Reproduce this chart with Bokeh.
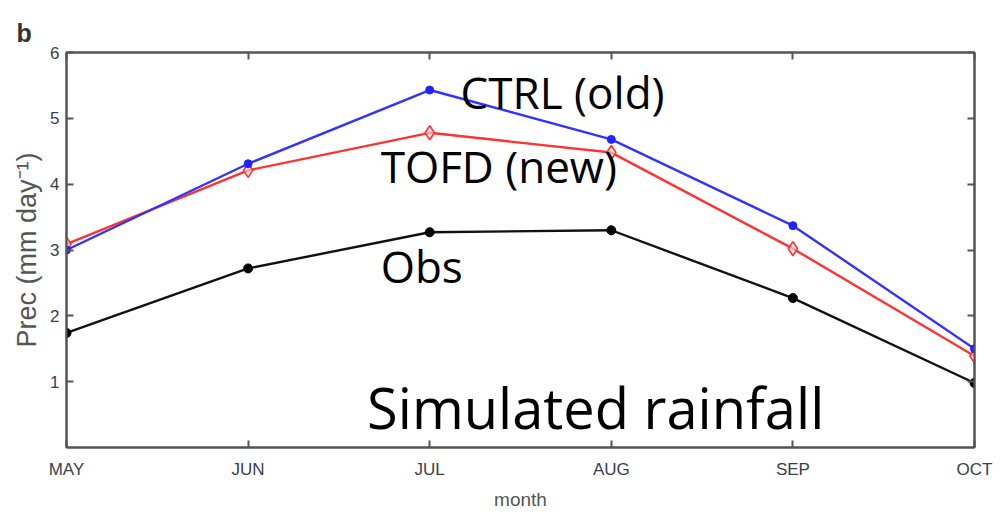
from bokeh.plotting import figure
from bokeh.models import Label, LinearAxis, FixedTicker, Range1d
from bokeh.embed import file_html
from bokeh.resources import INLINE

months = ["MAY", "JUN", "JUL", "AUG", "SEP", "OCT"]
obs = [1.74, 2.72, 3.27, 3.30, 2.27, 0.98]
ctrl = [3.00, 4.31, 5.43, 4.68, 3.37, 1.50]
tofd = [3.09, 4.21, 4.78, 4.48, 3.02, 1.39]
yticks = [1, 2, 3, 4, 5, 6]

xs = list(range(len(months)))
tick_font = "Liberation Sans"
gray = "#555555"

p = figure(width=1005, height=512, output_backend="svg", toolbar_location=None,
           x_range=Range1d(0, len(months) - 1), y_range=Range1d(0, 6),
           min_border_left=66, min_border_right=31, min_border_top=52, min_border_bottom=65)
p.grid.visible = False
p.outline_line_color = gray
p.outline_line_width = 2
p.background_fill_color = "white"

p.title.text = "b"
p.title.text_font = "Liberation Sans"
p.title.text_font_style = "bold"
p.title.text_font_size = "25px"
p.title.text_color = "#333333"
p.title.align = "left"
p.title.offset = -50
p.title.standoff = 11

def style_axis(ax):
    ax.axis_line_color = gray
    ax.axis_line_width = 2
    ax.major_tick_in = 7
    ax.major_tick_out = 0
    ax.major_tick_line_color = gray
    ax.major_tick_line_width = 2
    ax.minor_tick_line_color = None
    ax.major_label_text_font = tick_font
    ax.major_label_text_font_size = "17px"
    ax.major_label_text_color = "#3a404c"

p.xaxis.ticker = FixedTicker(ticks=xs)
p.xaxis.major_label_overrides = {i: m for i, m in enumerate(months)}
p.yaxis.ticker = FixedTicker(ticks=yticks)
style_axis(p.xaxis[0])
style_axis(p.yaxis[0])
p.xaxis.major_label_standoff = 12
p.yaxis.major_label_standoff = 7
p.xaxis.axis_label = "month"
p.xaxis.axis_label_text_font = tick_font
p.xaxis.axis_label_text_font_style = "normal"
p.xaxis.axis_label_text_font_size = "19px"
p.xaxis.axis_label_text_color = "#555555"
p.xaxis.axis_label_standoff = 7
p.yaxis.axis_label = "Prec (mm day\u207b\u00b9)"
p.yaxis.axis_label_text_font = tick_font
p.yaxis.axis_label_text_font_style = "normal"
p.yaxis.axis_label_text_font_size = "27px"
p.yaxis.axis_label_text_color = "#555555"
p.yaxis.axis_label_standoff = 5

top = LinearAxis(ticker=FixedTicker(ticks=xs),
                 major_label_overrides={i: "" for i in xs})
style_axis(top)
right = LinearAxis(ticker=FixedTicker(ticks=yticks),
                   major_label_overrides={v: "" for v in yticks})
style_axis(right)
top.major_label_standoff = 0
right.major_label_standoff = 0
p.add_layout(top, "above")
p.add_layout(right, "right")

p.line(xs, obs, line_color="#111111", line_width=2.4)
p.scatter(xs, obs, size=9, color="black")
p.line(xs, tofd, line_color="#ff3333", line_width=2.4)
p.scatter(xs, tofd, marker="diamond", size=14, fill_color="#ffdddd", fill_alpha=0.6,
          line_color="#ff3333", line_width=1.6)
p.line(xs, ctrl, line_color="#3333ff", line_width=2.4)
p.scatter(xs, ctrl, size=8, color="#2222ff")

ann_font = "Open Sans"
for txt, x, y, fs in [("CTRL (old)", 2.17, 5.40, "44px"),
                      ("TOFD (new)", 1.73, 4.27, "44px"),
                      ("Obs", 1.73, 2.75, "44px"),
                      ("Simulated rainfall", 1.655, 0.61, "56px")]:
    p.add_layout(Label(x=x, y=y, text=txt, text_font=ann_font, text_font_size=fs,
                       text_baseline="middle", text_color="black"))

open("out.html", "w").write(file_html(p, INLINE))
